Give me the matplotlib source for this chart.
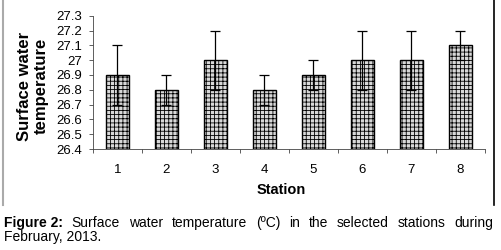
import matplotlib

matplotlib.use("Agg")
import matplotlib.pyplot as plt
from matplotlib.lines import Line2D

stations = ["1", "2", "3", "4", "5", "6", "7", "8"]
temps = [26.9, 26.8, 27.0, 26.8, 26.9, 27.0, 27.0, 27.1]
errs = [0.2, 0.1, 0.2, 0.1, 0.1, 0.2, 0.2, 0.1]
yticks = [26.4, 26.5, 26.6, 26.7, 26.8, 26.9, 27.0, 27.1, 27.2, 27.3]
ytick_labels = ["26.4", "26.5", "26.6", "26.7", "26.8", "26.9", "27", "27.1", "27.2", "27.3"]

plt.rcParams["font.family"] = ["Liberation Sans", "DejaVu Sans"]
plt.rcParams["hatch.color"] = "#505050"
plt.rcParams["hatch.linewidth"] = 0.6

W, H = 502, 250
fig = plt.figure(figsize=(W / 100, H / 100), dpi=100)
ax = fig.add_axes([93 / W, 1 - 149 / H, (485 - 93) / W, (149 - 15.7) / H])

xs = list(range(len(stations)))
ax.bar(xs, [t - 26.4 for t in temps], bottom=26.4, width=0.45,
       color="#d8d8d8", edgecolor="black", linewidth=1.0, hatch="++++")
ax.errorbar(xs, temps, yerr=errs, fmt="none", ecolor="black",
            elinewidth=0.9, capsize=3.5, capthick=0.9)

ax.set_xlim(-0.5, len(stations) - 0.5)
ax.set_ylim(26.4, 27.3)
ax.set_yticks(yticks)
ax.set_yticklabels(ytick_labels, fontsize=9.5)
ax.set_xticks(xs)
ax.set_xticklabels(stations, fontsize=9.5)
ax.tick_params(axis="x", length=0, pad=11)
ax.set_xticks([x + 0.5 for x in xs[:-1]] + [-0.5, len(stations) - 0.5], minor=True)
ax.tick_params(axis="x", which="minor", length=3, width=0.6, color="#444444")
ax.tick_params(axis="y", length=3, width=0.6, color="#444444", pad=5)
for side in ("top", "right"):
    ax.spines[side].set_visible(False)
for side in ("left", "bottom"):
    ax.spines[side].set_linewidth(0.6)
    ax.spines[side].set_color("#444444")

fig.text(33 / W, 1 - 86 / H, "Surface water\ntemperature", rotation=90,
         ha="center", va="center", fontsize=12, fontweight="bold",
         multialignment="center", linespacing=1.1)
fig.text(281 / W, 1 - 190 / H, "Station", ha="center", va="center",
         fontsize=10.5, fontweight="bold")

# page borders
fig.add_artist(Line2D([3 / W, 3 / W], [1 - 205 / H, 1], color="#aaaaaa", lw=1.5))
fig.add_artist(Line2D([494 / W, 494 / W], [1 - 205 / H, 1], color="black", lw=1.2))

# justified caption, first line
words = [("Figure 2:", "bold")] + [(w, "normal") for w in
         "Surface water temperature (ºC) in the selected stations during".split()]
renderer = fig.canvas.get_renderer()
texts = []
for w, weight in words:
    t = fig.text(0, 1 - 223 / H, w, fontsize=10, fontweight=weight, va="center")
    texts.append(t)
widths = [t.get_window_extent(renderer).width for t in texts]
left, right = 4.0, 493.0
gap = (right - left - sum(widths)) / (len(texts) - 1)
x = left
for t, wd in zip(texts, widths):
    t.set_x(x / W)
    x += wd + gap
fig.text(4 / W, 1 - 237 / H, "February, 2013.", fontsize=10, va="center")

fig.savefig("out.png", dpi=100)
